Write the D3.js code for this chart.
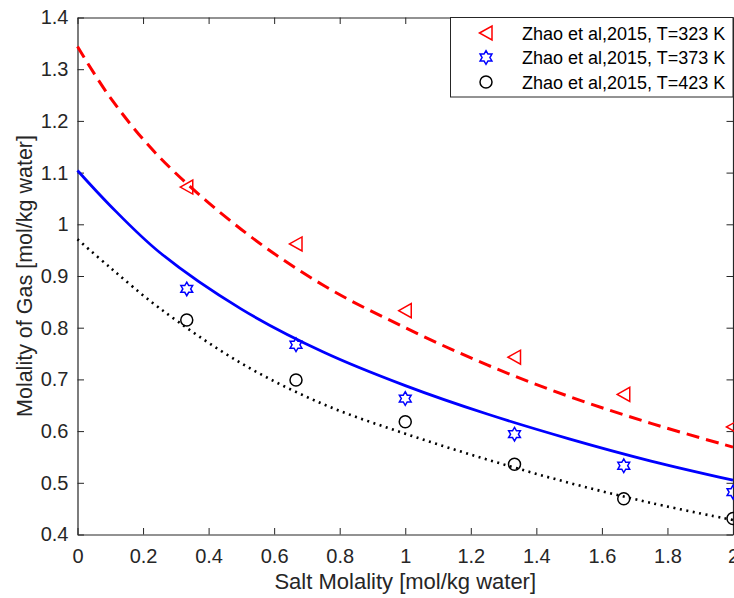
<!DOCTYPE html>
<html>
<head>
<meta charset="utf-8">
<script src="https://cdn.jsdelivr.net/npm/d3@7/dist/d3.min.js"></script>
<style>
  html, body { margin: 0; padding: 0; background: #fff; }
  svg { display: block; font-family: "Liberation Sans", Arial, Helvetica, sans-serif; }
</style>
</head>
<body>
<svg id="chart" width="734" height="598"></svg>
<script>
// Measured gas solubility (Zhao et al., 2015) at three temperatures
const saltMolality = [1/3, 2/3, 1, 4/3, 5/3, 2];
const gas323 = [1.072, 0.962, 0.833, 0.743, 0.671, 0.608];
const gas373 = [0.875, 0.767, 0.663, 0.594, 0.533, 0.482];
const gas423 = [0.815, 0.699, 0.618, 0.536, 0.469, 0.431];

// Model curves
const modelSalt = [0, 0.1, 0.25, 0.5, 0.75, 1, 1.25, 1.5, 1.75, 2];
const model323 = [1.344, 1.245, 1.130, 0.990, 0.882, 0.800, 0.728, 0.667, 0.615, 0.569];
const model373 = [1.104, 1.036, 0.946, 0.836, 0.753, 0.688, 0.633, 0.585, 0.542, 0.505];
const model423 = [0.971, 0.916, 0.838, 0.731, 0.652, 0.595, 0.545, 0.500, 0.461, 0.428];

const legendLabels = ["Zhao et al,2015, T=323 K", "Zhao et al,2015, T=373 K", "Zhao et al,2015, T=423 K"];
const xTicks = [0, 0.2, 0.4, 0.6, 0.8, 1, 1.2, 1.4, 1.6, 1.8, 2];
const yTicks = [0.4, 0.5, 0.6, 0.7, 0.8, 0.9, 1, 1.1, 1.2, 1.3, 1.4];

(function () {
const svg = d3.select("#chart");
const plotLeft = 77.5, plotRight = 733, plotTop = 17.5, plotBottom = 534.5;
const axisColor = "#262626";

const x = d3.scaleLinear().domain([0, 2]).range([plotLeft, plotRight]);
const y = d3.scaleLinear().domain([0.4, 1.4]).range([plotBottom, plotTop]);

// axes box with inward ticks on all four sides
const tickLen = 6.5;
const fmt = d => d3.format("~g")(d);

const gx = svg.append("g").attr("transform", `translate(0,${plotBottom})`)
  .call(d3.axisBottom(x).tickValues(xTicks).tickFormat(fmt).tickSizeInner(-tickLen).tickSizeOuter(0).tickPadding(14));
const gxTop = svg.append("g").attr("transform", `translate(0,${plotTop})`)
  .call(d3.axisTop(x).tickValues(xTicks).tickFormat("").tickSizeInner(-tickLen).tickSizeOuter(0));
const gy = svg.append("g").attr("transform", `translate(${plotLeft},0)`)
  .call(d3.axisLeft(y).tickValues(yTicks).tickFormat(fmt).tickSizeInner(-tickLen).tickSizeOuter(0).tickPadding(9));
const gyRight = svg.append("g").attr("transform", `translate(${plotRight},0)`)
  .call(d3.axisRight(y).tickValues(yTicks).tickFormat("").tickSizeInner(-tickLen).tickSizeOuter(0));

[gx, gxTop, gy, gyRight].forEach(g => {
  g.selectAll(".domain").attr("stroke", axisColor).attr("stroke-width", 1.2);
  g.selectAll(".tick line").attr("stroke", axisColor).attr("stroke-width", 1);
  g.selectAll("text").attr("fill", axisColor).style("font-size", "20px")
    .style("font-family", "'Liberation Sans', Arial, sans-serif");
});

// axis titles
svg.append("text")
  .attr("x", (plotLeft + plotRight) / 2).attr("y", 589)
  .attr("text-anchor", "middle").attr("fill", axisColor)
  .style("font-size", "22px")
  .text("Salt Molality [mol/kg water]");
svg.append("text")
  .attr("transform", `translate(32,${(plotTop + plotBottom) / 2}) rotate(-90)`)
  .attr("text-anchor", "middle").attr("fill", axisColor)
  .style("font-size", "21.5px")
  .text("Molality of Gas [mol/kg water]");

// model curves
const line = d3.line().x(d => x(d[0])).y(d => y(d[1])).curve(d3.curveCatmullRom.alpha(0.5));
const curves = [
  { vals: model323, color: "#ff0000", dash: "13,7", width: 3 },
  { vals: model373, color: "#0000ff", dash: null, width: 2.8 },
  { vals: model423, color: "#000000", dash: "2,4.5", width: 2.6 }
];
curves.forEach(c => {
  svg.append("path")
    .datum(modelSalt.map((m, i) => [m, c.vals[i]]))
    .attr("d", line)
    .attr("fill", "none")
    .attr("stroke", c.color)
    .attr("stroke-width", c.width)
    .attr("stroke-dasharray", c.dash);
});

// marker shapes
function triLeft(cx, cy) {
  return `M${cx - 6.5},${cy} L${cx + 6},${cy - 7} L${cx + 6},${cy + 7} Z`;
}
function hexagram(cx, cy) {
  const R = 6.8, r = R / Math.sqrt(3);
  const pts = [];
  for (let k = 0; k < 12; k++) {
    const a = -Math.PI / 2 + k * Math.PI / 6;
    const rad = k % 2 === 0 ? R : r;
    pts.push([cx + rad * Math.cos(a), cy + rad * Math.sin(a)]);
  }
  return "M" + pts.map(p => p.join(",")).join("L") + "Z";
}

const markerSets = [
  { vals: gas323, color: "#ff0000", shape: "tri" },
  { vals: gas373, color: "#0000ff", shape: "hex" },
  { vals: gas423, color: "#000000", shape: "circ" }
];
function drawMarker(g, shape, color, cx, cy) {
  if (shape === "circ") {
    g.append("circle").attr("cx", cx).attr("cy", cy).attr("r", 6)
      .attr("fill", "none").attr("stroke", color).attr("stroke-width", 1.5);
  } else {
    g.append("path").attr("d", shape === "tri" ? triLeft(cx, cy) : hexagram(cx, cy))
      .attr("fill", "none").attr("stroke", color).attr("stroke-width", 1.5)
      .attr("stroke-linejoin", "miter");
  }
}
const gm = svg.append("g");
markerSets.forEach(s => {
  saltMolality.forEach((m, i) => drawMarker(gm, s.shape, s.color, x(m), y(s.vals[i])));
});

// legend
const lg = svg.append("g");
lg.append("rect").attr("x", 450.5).attr("y", 17.5).attr("width", 282.5).attr("height", 79.5)
  .attr("fill", "#fff").attr("stroke", axisColor).attr("stroke-width", 1);
legendLabels.forEach((lab, i) => {
  const cy = 33 + i * 24.5;
  drawMarker(lg, markerSets[i].shape, markerSets[i].color, 486, cy);
  lg.append("text").attr("x", 522).attr("y", cy + 6.5)
    .attr("fill", "#000").style("font-size", "18px").text(lab);
});
})();
</script>
</body>
</html>
